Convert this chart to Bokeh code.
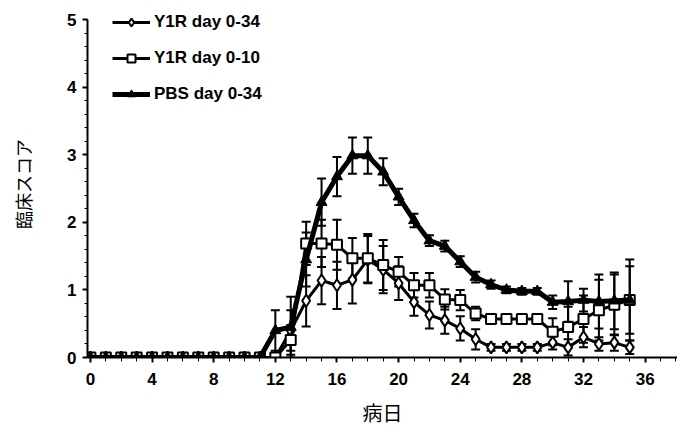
from bokeh.plotting import figure
from bokeh.models import (ColumnDataSource, Whisker, TeeHead, Range1d,
                          SingleIntervalTicker, Legend, LegendItem)
from bokeh.embed import file_html
from bokeh.resources import INLINE

days = list(range(36))

y1r_034_mean = [0]*13 + [0.40, 0.84, 1.14, 1.07, 1.15, 1.45, 1.30, 1.10, 0.82, 0.63,
                         0.55, 0.43, 0.27, 0.15, 0.15, 0.15, 0.15, 0.22, 0.15, 0.30,
                         0.20, 0.22, 0.15]
y1r_034_err = [0]*13 + [0.30, 0.38, 0.35, 0.35, 0.35, 0.35, 0.35, 0.25, 0.20, 0.20,
                        0.20, 0.18, 0.15, 0.05, 0.05, 0.05, 0.05, 0.10, 0.12, 0.15,
                        0.10, 0.12, 0.10]

y1r_010_mean = [0]*13 + [0.26, 1.69, 1.69, 1.67, 1.47, 1.47, 1.37, 1.27, 1.07, 1.07,
                         0.86, 0.85, 0.65, 0.57, 0.57, 0.57, 0.57, 0.38, 0.45, 0.57,
                         0.70, 0.78, 0.85]
y1r_010_err = [0]*13 + [0.22, 0.32, 0.35, 0.37, 0.30, 0.36, 0.37, 0.22, 0.18, 0.18,
                        0.15, 0.15, 0.10, 0.04, 0.04, 0.04, 0.04, 0.20, 0.30, 0.35,
                        0.45, 0.45, 0.50]

pbs_mean = [0]*12 + [0.40, 0.45, 1.45, 2.30, 2.68, 2.99, 2.99, 2.75, 2.38, 2.03,
                     1.73, 1.65, 1.42, 1.19, 1.08, 1.00, 0.98, 0.98, 0.82, 0.83,
                     0.85, 0.83, 0.84, 0.85]
pbs_err = [0]*12 + [0.30, 0.45, 0.40, 0.35, 0.29, 0.27, 0.27, 0.20, 0.12, 0.10,
                    0.08, 0.08, 0.08, 0.08, 0.06, 0.05, 0.05, 0.05, 0.10, 0.30,
                    0.17, 0.40, 0.42, 0.60]

labels = ["Y1R day 0-34", "Y1R day 0-10", "PBS day 0-34"]
x_ticks_major = 4
y_ticks = [0, 1, 2, 3, 4, 5]

W, H = 677, 429
p = figure(width=W, height=H, output_backend="svg", toolbar_location=None,
           x_range=Range1d(-0.19, 38.1), y_range=Range1d(0, 5.14),
           min_border_left=87, min_border_right=0, min_border_top=10,
           min_border_bottom=72)
p.outline_line_color = None
p.xgrid.visible = False
p.ygrid.visible = False
p.background_fill_color = "white"


def err_source(mean, err):
    xs, up, lo = [], [], []
    for d, m, e in zip(days, mean, err):
        if e > 0:
            xs.append(d)
            up.append(m + e)
            lo.append(m - e)
    return ColumnDataSource(dict(x=xs, upper=up, lower=lo))


for mean, err in [(y1r_034_mean, y1r_034_err), (y1r_010_mean, y1r_010_err), (pbs_mean, pbs_err)]:
    w = Whisker(source=err_source(mean, err), base="x", upper="upper", lower="lower",
                line_color="black", line_width=2,
                upper_head=TeeHead(size=9, line_color="black", line_width=2),
                lower_head=TeeHead(size=9, line_color="black", line_width=2))
    p.add_layout(w)

l1 = p.line(days, y1r_034_mean, line_color="black", line_width=3)
s1 = p.scatter(days, y1r_034_mean, marker="diamond", size=12, fill_color="white",
               line_color="black", line_width=2)
l2 = p.line(days, y1r_010_mean, line_color="black", line_width=3)
s2 = p.scatter(days, y1r_010_mean, marker="square", size=10, fill_color="white",
               line_color="black", line_width=2)
l3 = p.line(days, pbs_mean, line_color="black", line_width=5)
s3 = p.scatter(days, pbs_mean, marker="triangle", size=11, fill_color="black",
               line_color="black", line_width=1)

legend = Legend(items=[LegendItem(label=labels[0], renderers=[l1, s1]),
                       LegendItem(label=labels[1], renderers=[l2, s2]),
                       LegendItem(label=labels[2], renderers=[l3, s3])],
                location=(25, 253), glyph_width=38, glyph_height=20, label_height=20,
                spacing=16, padding=0, margin=0, border_line_color=None,
                background_fill_alpha=0, label_standoff=4,
                label_text_font="Liberation Sans", label_text_font_style="bold",
                label_text_font_size="17px", label_text_color="black")
p.add_layout(legend)

p.xaxis.ticker = SingleIntervalTicker(interval=x_ticks_major, num_minor_ticks=4)
p.yaxis.ticker = SingleIntervalTicker(interval=1, num_minor_ticks=5)
p.yaxis.bounds = (0, 5)
for ax in (p.xaxis, p.yaxis):
    ax.axis_line_color = "black"
    ax.axis_line_width = 2
    ax.major_tick_line_color = "black"
    ax.major_tick_line_width = 2
    ax.minor_tick_line_color = "black"
    ax.minor_tick_line_width = 1
    ax.major_tick_out = 5
    ax.major_tick_in = 0
    ax.minor_tick_out = 4
    ax.minor_tick_in = 0
    ax.major_label_text_font = "Liberation Sans"
    ax.major_label_text_font_style = "bold"
    ax.major_label_text_font_size = "17px"
    ax.major_label_text_color = "black"
    ax.axis_label_text_font = "Noto Sans CJK JP"
    ax.axis_label_text_font_style = "normal"
    ax.axis_label_text_color = "black"

p.yaxis.minor_tick_out = 3
p.xaxis.axis_label = "病日"
p.xaxis.axis_label_text_font_size = "20px"
p.xaxis.major_label_standoff = 10
p.xaxis.axis_label_standoff = 10
p.yaxis.axis_label = "臨床スコア"
p.yaxis.axis_label_text_font_size = "18px"
p.yaxis.major_label_standoff = 6
p.yaxis.axis_label_standoff = 28

open("out.html", "w").write(file_html(p, INLINE))
